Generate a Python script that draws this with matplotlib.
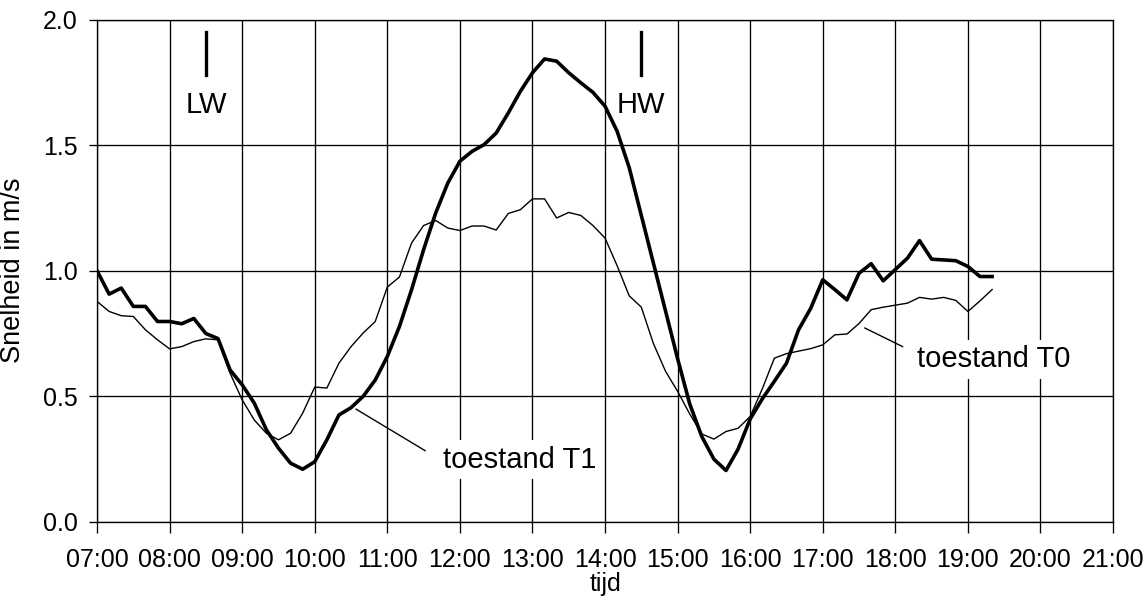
import numpy as np
import matplotlib
matplotlib.use("Agg")
import matplotlib.pyplot as plt

plt.rcParams["font.family"] = ["Liberation Sans", "DejaVu Sans"]

# metingen elke 10 minuten vanaf 07:00
start_uur = 7.0
stap_min = 10

# toestand T1 (dikke lijn)
snelheid_t1 = [
    1.00, 0.907, 0.931, 0.858, 0.858, 0.798, 0.798, 0.789, 0.81, 0.75, 0.73, 0.605,
    0.546, 0.473, 0.367, 0.294, 0.234, 0.21, 0.24, 0.327, 0.426, 0.455, 0.50, 0.565,
    0.659, 0.778, 0.924, 1.084, 1.23, 1.349, 1.436, 1.475, 1.502, 1.548, 1.628, 1.714,
    1.788, 1.843, 1.834, 1.788, 1.748, 1.71, 1.655, 1.555, 1.41, 1.22, 1.03, 0.84,
    0.65, 0.47, 0.34, 0.25, 0.205, 0.29, 0.41, 0.49, 0.56, 0.632, 0.765, 0.85,
    0.964, 0.925, 0.884, 0.99, 1.028, 0.96, 1.005, 1.05, 1.12, 1.046, 1.043, 1.04,
    1.017, 0.977, 0.977,
]

# toestand T0 (dunne lijn)
snelheid_t0 = [
    0.878, 0.838, 0.821, 0.818, 0.765, 0.725, 0.689, 0.698, 0.718, 0.729, 0.725, 0.592,
    0.486, 0.406, 0.353, 0.327, 0.353, 0.433, 0.537, 0.533, 0.632, 0.698, 0.752, 0.798,
    0.935, 0.975, 1.11, 1.18, 1.20, 1.17, 1.16, 1.178, 1.178, 1.162, 1.228, 1.243,
    1.286, 1.286, 1.21, 1.232, 1.22, 1.18, 1.13, 1.02, 0.90, 0.855, 0.71, 0.60,
    0.52, 0.43, 0.35, 0.33, 0.36, 0.373, 0.42, 0.53, 0.652, 0.67, 0.68, 0.69,
    0.705, 0.745, 0.748, 0.79, 0.845, 0.855, 0.863, 0.871, 0.894, 0.887, 0.894, 0.882,
    0.838, 0.88, 0.925,
]

uren = list(range(7, 22))
uur_labels = [f"{u:02d}:00" for u in uren]
y_ticks = [0.0, 0.5, 1.0, 1.5, 2.0]

t1 = start_uur + np.arange(len(snelheid_t1)) * stap_min / 60
t0 = start_uur + np.arange(len(snelheid_t0)) * stap_min / 60

fig = plt.figure(figsize=(11.47, 6.04), dpi=100)
ax = fig.add_axes([0.0846, 0.1358, 0.8858, 0.8319])

ax.plot(t0, snelheid_t0, color="black", linewidth=1.0, zorder=3)
ax.plot(t1, snelheid_t1, color="black", linewidth=2.6, zorder=4)

ax.set_xlim(7, 21)
ax.set_ylim(0, 2.0)
ax.set_xticks(uren)
ax.set_xticklabels(uur_labels)
ax.set_yticks(y_ticks)
ax.set_yticklabels([f"{v:.1f}" for v in y_ticks])

ax.grid(True, color="black", linewidth=0.95)
for sp in ax.spines.values():
    sp.set_color("black")
    sp.set_linewidth(0.95)
ax.tick_params(axis="x", direction="out", length=8, width=0.95, pad=11, labelsize=18)
ax.tick_params(axis="y", direction="out", length=6, width=0.95, pad=8, labelsize=18)

ax.set_xlabel("tijd", fontsize=18, labelpad=0)
ax.set_ylabel("Snelheid in m/s", fontsize=19.5, labelpad=12)

# laag- en hoogwater markeringen
for tijd, naam in [(8.5, "LW"), (14.5, "HW")]:
    ax.plot([tijd, tijd], [1.78, 1.95], color="black", linewidth=2.4)
    ax.text(tijd, 1.66, naam, ha="center", va="center", fontsize=21)

# toelichting bij de lijnen
ax.plot([10.57, 11.52], [0.449, 0.284], color="black", linewidth=1.0)
ax.text(12.82, 0.247, "toestand T1", ha="center", va="center", fontsize=21,
        bbox=dict(facecolor="white", edgecolor="none", pad=4), zorder=5)
ax.plot([17.58, 18.10], [0.772, 0.698], color="black", linewidth=1.0)
ax.text(19.36, 0.648, "toestand T0", ha="center", va="center", fontsize=21,
        bbox=dict(facecolor="white", edgecolor="none", pad=4), zorder=5)

fig.savefig("out.png", dpi=100)
